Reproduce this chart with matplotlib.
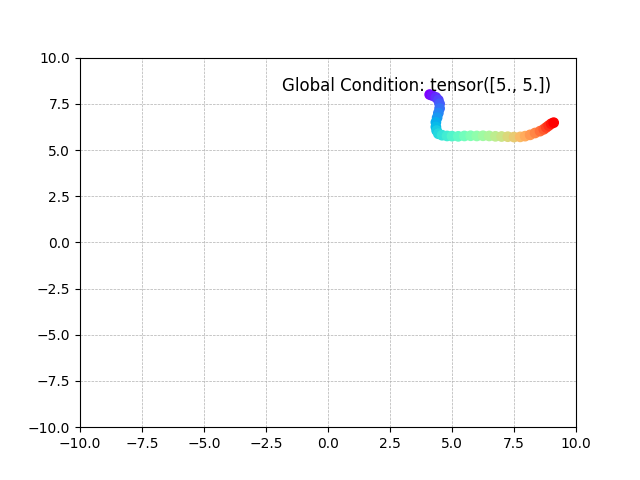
import numpy as np
import matplotlib
matplotlib.use('Agg')
import matplotlib.pyplot as plt

# trajectory (start purple -> end red)
xs = [4.10, 4.20, 4.35, 4.45, 4.50, 4.50, 4.45, 4.40, 4.35, 4.35, 4.38, 4.45, 4.60,
      4.80, 5.00, 5.25, 5.50, 5.75, 6.00, 6.25, 6.50, 6.75, 7.00, 7.25, 7.50, 7.75,
      7.95, 8.15, 8.35, 8.55, 8.70, 8.80, 8.90, 9.00, 9.10]
ys = [8.00, 7.95, 7.85, 7.70, 7.50, 7.25, 7.00, 6.75, 6.50, 6.25, 6.05, 5.88, 5.80,
      5.76, 5.75, 5.74, 5.76, 5.77, 5.76, 5.77, 5.76, 5.74, 5.73, 5.72, 5.70, 5.71,
      5.75, 5.82, 5.92, 6.02, 6.12, 6.22, 6.32, 6.42, 6.48]
condition = "tensor([5., 5.])"

fig, ax = plt.subplots(figsize=(6.4, 4.8), dpi=100)
colors = plt.cm.rainbow(np.linspace(0, 1, len(xs)))
ax.scatter(xs, ys, c=colors, s=45, zorder=3)
ax.set_xlim(-10, 10)
ax.set_ylim(-10, 10)
ax.grid(True, linestyle='--', linewidth=0.5)
ax.text(-1.85, 8.2, f"Global Condition: {condition}", fontsize=12)
plt.savefig('out.png')
